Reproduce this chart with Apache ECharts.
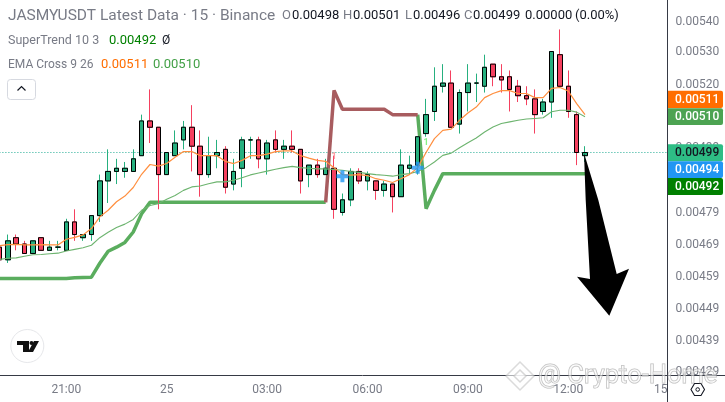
<!DOCTYPE html>
<html><head><meta charset="utf-8">
<style>html,body{margin:0;padding:0;background:#fff}#c{width:725px;height:402px}</style>
<script src="https://cdn.jsdelivr.net/npm/echarts@6/dist/echarts.min.js"></script>
</head><body><div id="c"></div>
<script>
// All prices are in units of 0.00001 USDT. One row per 15 minute bar: open, close, low, high.
const candles = [
[469,465,465,469],[465,471,464,473],[472,470,468,473],[470,467,467,471],[467,471,467,471],
[472,468,468,472],[468,469,468,471],[469,469,468,471],[468,477,468,478],[477,473,471,481],
[472,473,471,473],[473,479,471,479],[479,490,477,492],[490,493,483,500],[493,494,489,497],
[493,494,491,496],[493,497,493,500],[498,509,498,511],[509,507,502,519],[507,492,481,507],
[492,499,492,499],[498,502,498,506],[503,507,500,509],[507,501,493,514],[501,492,485,506],
[492,498,491,504],[498,499,494,503],[500,488,486,501],[489,493,487,497],[494,503,488,504],
[503,503,497,504],[503,497,494,504],[497,502,492,503],[503,500,499,506],[500,501,497,503],
[501,500,499,506],[500,490,486,500],[492,495,488,495],[495,492,491,497],[492,494,492,497],
[494,481,478,498],[480,484,479,486],[484,493,482,494],[493,490,489,494],[490,492,487,493],
[490,487,484,490],[487,489,485,490],[489,485,480,489],[485,495,485,500],[494,495,492,498],
[495,504,492,504],[505,511,504,516],[512,520,509,526],[520,521,518,527],[521,507,507,525],
[508,518,505,519],[518,521,512,527],[521,521,515,524],[520,526,518,530],[527,523,520,527],
[523,522,518,527],[523,519,512,525],[520,517,515,522],[517,516,514,520],[516,511,505,519],
[512,515,511,516],[515,531,510,531],[530,520,520,538],[520,512,510,525],[511,499,495,512],
[498,499,496,501]];
const ema9 = [469.5,469.8,469.9,469.7,469.7,469.8,469.7,469.7,471.5,472.1,472.9,474.9,478.6,480.7,483.4,485.2,487.9,492.1,495.2,494.7,495.5,497.5,499.3,499.3,498,498,498,496.2,495.5,496.5,498,498,498.5,499.3,499.5,499.5,498,497.2,496.5,496.2,494.2,492,491.8,492,491.7,490.7,490.2,489.5,490.7,492,494.2,499,503.4,506,506.4,509.2,511.5,513.4,516.4,517.7,518.6,518.6,517.7,517.7,516.4,516.4,519.3,519.6,518.5,514.5,511];
const ema26 = [465.1,465.5,465.6,466.1,466.6,466.7,466.9,467.1,467.8,468.3,468.8,469.6,472,473.7,475.2,476.3,477.8,480.7,482.2,482.8,484.2,485.4,487,488.1,488.4,489.1,489.7,489.7,490.2,491,491.9,492.5,493.1,493.7,494.2,494.6,494.2,494,493.8,493.8,493.6,493.4,493,492.7,492.3,492,491.8,491.5,492,492.3,493,494.2,496,498.1,498.8,500.5,502.1,503.6,505.5,507.1,508.2,508.7,509.2,509.6,509.8,510,511.9,512.4,512.4,511.8,510.3];
const superUp = [[0,459.1],[8,459.1],[9,459.3],[10,459.4],[11,459.5],[12,463.9],[13,467.7],[14,469],[15,470.5],[16,473.8],[17,479.6],[18,483.2],[39,483.2]];
const superDown = [[39,483.2],[40,518.7],[41,512.7],[46,512.7],[47,511],[50,511]];
const superUp2 = [[50,511],[51,481.2],[52,487],[53,492.3],[70,492.3]];
const crossMarks = [[41,491.5],[50,494.2]];
const sellMark = [[40,497.6]];
const buyMark = [[51,502.1]];
const lastPrice = 499;
const priceLineSpan = [0,79.86];
const yTickValues = [540.3,530.7,520.5,510.3,500.3,490.2,479.9,469.7,459.5,449.4,439.3,429.3];
const yTickLabels = ['0.00540','0.00530','0.00520','0.00510','0.00499','0.00489','0.00479','0.00469','0.00459','0.00449','0.00439','0.00429'];
const xTickValues = [8,20,32,44,56,68,79.86];
const xTickLabels = ['21:00','25','03:00','06:00','09:00','12:00','15'];

const UP='#26b07f', DOWN='#f5405f', INK='#131722', GREY='#787b86', AXIS='#363a45';
const FONT='Roboto, "Liberation Sans", sans-serif';
const withIndex = a => a.map((v,i)=>[i,v]);
const wickData = candles.map((c,i)=>[i,c[0],c[1],c[2],c[3]]);
const bodyData = candles.map((c,i)=>[i,c[0],c[1],Math.min(c[0],c[1]),Math.max(c[0],c[1])]);

function txt(x,y,t,fill,size,extra){return Object.assign({type:'text',z:100,style:{x:x,y:y,text:t,fill:fill,font:(size||13)+'px '+FONT,textVerticalAlign:'middle'}},extra||{});}
function badge(y0,y1,t,bg,fg){return [
 {type:'rect',z:90,shape:{x:668,y:y0,width:55,height:y1-y0,r:[0,2,2,0]},style:{fill:bg}},
 {type:'text',z:91,style:{x:675,y:(y0+y1)/2+0.5,text:t,fill:fg,font:'500 12px '+FONT,textVerticalAlign:'middle'}}];}

const graphics = [
 {type:'line',z:80,shape:{x1:667.5,y1:0,x2:667.5,y2:402},style:{stroke:AXIS,lineWidth:1}},
 {type:'line',z:80,shape:{x1:0,y1:375.5,x2:725,y2:375.5},style:{stroke:AXIS,lineWidth:1}},
 txt(8,16,'JASMYUSDT Latest Data · 15 · Binance',GREY,15.5),
 txt(282,16,'O',GREY,13),txt(292,16,'0.00498',INK,13),
 txt(343,16,'H',GREY,13),txt(353,16,'0.00501',INK,13),
 txt(405,16,'L',GREY,13),txt(413,16,'0.00496',INK,13),
 txt(464,16,'C',GREY,13),txt(473,16,'0.00499',INK,13),
 txt(525,16,'0.00000',INK,13),txt(575,16,'(0.00%)',INK,13),
 txt(8,40.5,'SuperTrend 10 3',GREY,12.5),txt(109,40.5,'0.00492','#008000',13),txt(162,40.5,'Ø',INK,12),
 txt(8,64.5,'EMA Cross 9 26',GREY,12),txt(101,64.5,'0.00511','#ff6d00',13),txt(153,64.5,'0.00510','#43a047',13),
 {type:'rect',z:100,shape:{x:7.5,y:79.5,width:28,height:20,r:3},style:{fill:'#fff',stroke:'#d6d9e0',lineWidth:1}},
 {type:'polyline',z:101,shape:{points:[[17.5,90.5],[21.5,86.5],[25.5,90.5]]},style:{stroke:INK,lineWidth:1.2,fill:null}},
 // hand drawn arrow
 {type:'polygon',z:70,shape:{points:[[584,153],[598.3,200],[616.7,274],[629,268.7],[609.3,315.7],[577,276.7],[590,279],[585.7,200]]},style:{fill:'#000'}},
 // logo
 {type:'circle',z:100,shape:{cx:27.3,cy:346,r:16.5},style:{fill:'#fff',stroke:'#e6e7ea',lineWidth:1}},
 {type:'polygon',z:101,shape:{points:[[17,341],[29,341],[29,352],[23,352],[23,345],[17,345]]},style:{fill:'#111'}},
 {type:'circle',z:101,shape:{cx:31.5,cy:343,r:2},style:{fill:'#111'}},
 {type:'polygon',z:101,shape:{points:[[34,341],[39,341],[33,352],[28,352]]},style:{fill:'#111'}},
 // settings glyph
 {type:'polygon',z:100,shape:{points:[[691,389.5],[694.5,383.5],[701,383.5],[704.5,389.5],[701,395.5],[694.5,395.5]]},style:{fill:'#fff',stroke:INK,lineWidth:1.1}},
 {type:'circle',z:101,shape:{cx:697.7,cy:389.5,r:1.8},style:{fill:'#fff',stroke:INK,lineWidth:1}},
 // watermark
 {type:'polygon',z:110,shape:{points:[[520,362],[534,376],[520,390],[506,376]]},style:{fill:'rgba(255,255,255,.6)',stroke:'rgba(190,190,190,.55)',lineWidth:1.5}},
 {type:'polygon',z:111,shape:{points:[[520,370],[526,376],[520,382],[514,376]]},style:{fill:'rgba(255,255,255,.7)',stroke:'rgba(190,190,190,.6)',lineWidth:1.5}},
 {type:'text',z:110,style:{x:538,y:377,text:'@ Crypto-Home',fill:'rgba(255,255,255,.5)',stroke:'rgba(130,130,130,.55)',lineWidth:1,font:'25.5px '+FONT,textVerticalAlign:'middle'}}
].concat(
 badge(90.7,108,'0.00511','#ff6d00','#fff'),
 badge(108.3,125,'0.00510','#4ca352','#fff'),
 badge(144.3,161.3,'0.00499','#2ebd85','#131722'),
 badge(161.3,178,'0.00494','#2196f3','#fff'),
 badge(178,195,'0.00492','#008000','#fff')
);

const chart = echarts.init(document.getElementById('c'),null,{renderer:'canvas'});
chart.setOption({
 animation:false,
 backgroundColor:'#fff',
 grid:{left:0,top:0,width:667.5,height:375.5,containLabel:false},
 xAxis:{type:'value',min:0.072,max:79.86,splitLine:{show:false},axisTick:{show:false},axisLine:{show:false},
  axisLabel:{customValues:xTickValues,color:GREY,fontSize:12,fontFamily:FONT,margin:8,alignMaxLabel:'right',
   formatter:v=>xTickLabels[xTickValues.indexOf(v)]}},
 yAxis:{type:'value',position:'right',min:428.33,max:547.33,splitLine:{show:false},axisTick:{show:false},axisLine:{show:false},
  axisLabel:{customValues:yTickValues,color:GREY,fontSize:12,fontFamily:FONT,margin:8,
   formatter:v=>yTickLabels[yTickValues.indexOf(v)]}},
 series:[
  {type:'line',data:priceLineSpan.map(x=>[x,lastPrice]),symbol:'none',lineStyle:{color:'#22ab94',type:[1,2],width:1.2},z:2},
  {type:'line',data:superUp,symbol:'none',lineStyle:{color:'#5aad5e',width:3.5},z:3},
  {type:'line',data:superUp2,symbol:'none',lineStyle:{color:'#5aad5e',width:3.5},z:3},
  {type:'line',data:superDown,symbol:'none',lineStyle:{color:'#a85c5f',width:3.5},z:3},
  {type:'candlestick',data:wickData,encode:{x:0,y:[1,2,3,4]},barWidth:5,z:4,
   itemStyle:{color:UP,color0:DOWN,borderColor:UP,borderColor0:DOWN,borderColorDoji:UP,borderWidth:1}},
  {type:'candlestick',data:bodyData,encode:{x:0,y:[1,2,3,4]},barWidth:5,z:5,
   itemStyle:{color:UP,color0:DOWN,borderColor:'#000',borderColor0:'#000',borderColorDoji:'#000',borderWidth:1}},
  {type:'line',data:withIndex(ema26),symbol:'none',lineStyle:{color:'#6db46f',width:1.1},z:6},
  {type:'line',data:withIndex(ema9),symbol:'none',lineStyle:{color:'#ff8f3f',width:1.2},z:6},
  {type:'scatter',data:crossMarks,symbol:'path://M4 0H8V4H12V8H8V12H4V8H0V4H4Z',symbolSize:12,itemStyle:{color:'#2196f3'},z:7},
  {type:'scatter',data:sellMark,symbolSize:0,z:7,label:{show:true,position:'inside',formatter:'1',color:'#ff8a90',fontSize:9,fontWeight:'bold',fontFamily:FONT}},
  {type:'scatter',data:buyMark,symbolSize:0,z:7,label:{show:true,position:'inside',formatter:'1',color:'#66ee66',fontSize:9,fontWeight:'bold',fontFamily:FONT}}
 ],
 graphic:graphics
});
</script></body></html>
